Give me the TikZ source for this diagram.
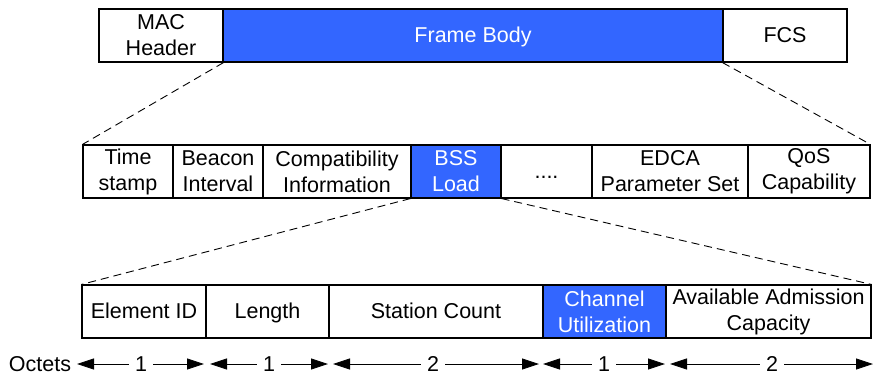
\documentclass[tikz,border=0pt]{standalone}
\usepackage{fontspec}
\setmainfont{Liberation Sans}
\usetikzlibrary{arrows.meta}
\definecolor{fblue}{HTML}{3366FF}
\begin{document}
\begin{tikzpicture}[x=1pt,y=-1pt,
  cell/.style={draw=black,line width=1.1pt,minimum height=53pt,inner sep=0pt,align=center,font=\fontsize{21.5}{26}\selectfont},
  one/.style={text height=15.4pt,text depth=2pt},
  hcell/.style={cell,fill=fblue,text=white},
  zoomline/.style={dashed,dash pattern=on 8pt off 5pt,line width=0.9pt},
  olbl/.style={inner sep=6pt,text height=15.4pt,text depth=0pt,font=\fontsize{21.5}{26}\selectfont},
  oarr/.style={line width=0.8pt,-{Triangle[length=17pt,width=11pt]}}]
\useasboundingbox (0,0) rectangle (873,376);
% top row
\node[cell,minimum width=124pt] (mac) at (161,35.5) {MAC\\Header};
\node[hcell,one,minimum width=500pt] (fb) at (473,35.5) {Frame Body};
\node[cell,one,minimum width=124pt] (fcs) at (785,35.5) {FCS};
% middle row
\node[cell,minimum width=90pt] (ts) at (128,171.5) {Time\\stamp};
\node[cell,minimum width=90pt] (bi) at (218,171.5) {Beacon\\Interval};
\node[cell,minimum width=148pt] (ci) at (337,171.5) {Compatibility\\Information};
\node[hcell,minimum width=90pt] (bss) at (456,171.5) {BSS\\Load};
\node[cell,one,minimum width=91pt] (dots) at (546.5,171.5) {....};
\node[cell,minimum width=156pt] (edca) at (670,171.5) {EDCA\\Parameter Set};
\node[cell,minimum width=122pt] (qos) at (809,171.5) {QoS\\Capability};
% bottom row
\node[cell,one,minimum width=124pt] (eid) at (144,311.5) {Element ID};
\node[cell,one,minimum width=123pt] (len) at (267.5,311.5) {Length};
\node[cell,one,minimum width=214pt] (sc) at (436,311.5) {Station Count};
\node[hcell,minimum width=123pt] (cu) at (604.5,311.5) {Channel\\Utilization};
\node[cell,minimum width=205pt] (aac) at (768.5,311.5) {Available Admission\\Capacity};
% zoom lines
\draw[zoomline] (mac.south east) -- (ts.north west);
\draw[zoomline] (fcs.south west) -- (qos.north east);
\draw[zoomline] (bss.south west) -- (eid.north west);
\draw[zoomline] (bss.south east) -- (aac.north east);
% octets
\node[font=\fontsize{21.5}{26}\selectfont,inner sep=0pt,text height=15.4pt,text depth=0pt] (oct) at (40,363.5) {Octets};
\coordinate (a1l) at (77,364); \coordinate (a1r) at (204,364);
\coordinate (a2l) at (210,364); \coordinate (a2r) at (328,364);
\coordinate (a3l) at (333,364); \coordinate (a3r) at (539,364);
\coordinate (a4l) at (543,364); \coordinate (a4r) at (665,364);
\coordinate (a5l) at (670,364); \coordinate (a5r) at (873,364);
\node[olbl] (o1) at (141,364) {1};
\node[olbl] (o2) at (269,364) {1};
\node[olbl] (o3) at (433,364) {2};
\node[olbl] (o4) at (604,364) {1};
\node[olbl] (o5) at (772,364) {2};
\foreach \i in {1,...,5}{
  \draw[oarr] (o\i) -- (a\i l);
  \draw[oarr] (o\i) -- (a\i r);
}
\end{tikzpicture}
\end{document}
